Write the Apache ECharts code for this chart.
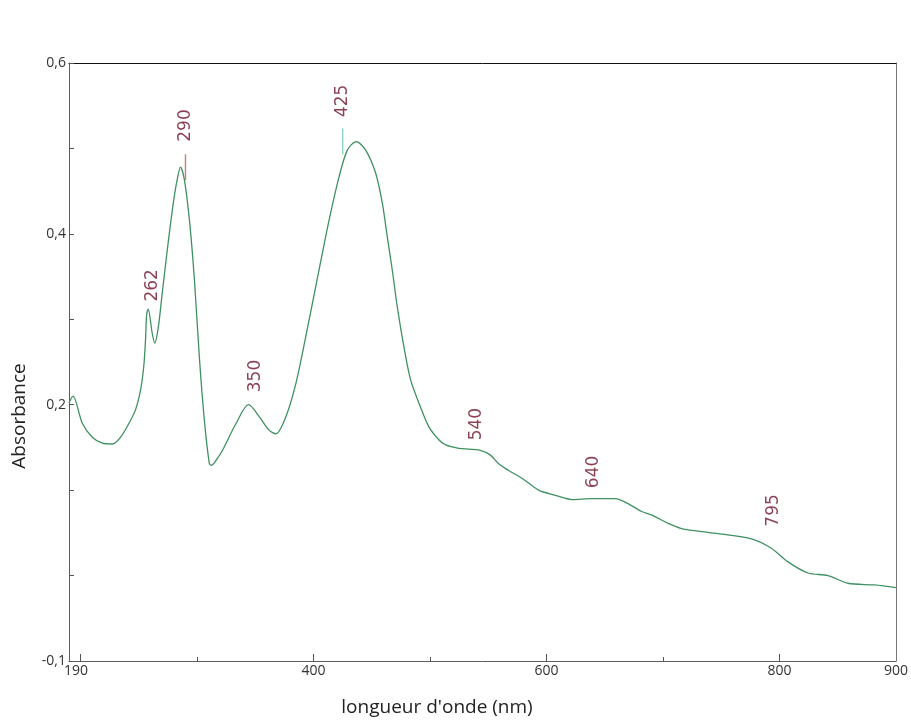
<!DOCTYPE html>
<html>
<head>
<meta charset="utf-8">
<title>Spectre d'absorption UV-visible</title>
<script src="https://cdn.jsdelivr.net/npm/echarts@6/dist/echarts.min.js"></script>
<style>
  html, body { margin: 0; padding: 0; background: #ffffff; }
  #chart { width: 911px; height: 723px; }
</style>
</head>
<body>
<div id="chart"></div>
<script>
// Absorption spectrum: wavelength (nm) and absorbance
const wavelength = [
  190, 193.4, 201.5, 210, 218.6, 227.2, 234.3, 241.4, 247.1, 251.4,
  254.2, 255.7, 256.7, 258, 261.4, 263.6, 266.6, 270, 273.4, 277,
  280.5, 283.4, 285.7, 289.1, 293.4, 297.7, 301.9, 306.2, 310.5, 312.2,
  316.3, 321.9, 333.4, 344.2, 353.3, 361.9, 367.6, 376.2, 384.8, 393.3,
  404.7, 413.3, 421.9, 429, 436.7, 444.7, 453.3, 459, 463.2, 467.5,
  471.8, 477.5, 483.3, 490.4, 499, 507.5, 513.3, 524.6, 533.2, 541.8,
  551.8, 558.9, 567.5, 578.9, 593.2, 607.5, 621.7, 638.8, 658.9, 670.3,
  681.6, 690.2, 704.5, 715.9, 730.2, 747.3, 775.9, 793, 807.3, 824.4,
  841.6, 858.7, 881.6, 900
];
const absorbance = [
  0.202, 0.210, 0.178, 0.162, 0.155, 0.154, 0.162, 0.178, 0.194, 0.217,
  0.245, 0.276, 0.306, 0.312, 0.284, 0.272, 0.290, 0.330, 0.370, 0.410,
  0.445, 0.467, 0.478, 0.463, 0.416, 0.346, 0.256, 0.182, 0.131, 0.129,
  0.135, 0.147, 0.178, 0.200, 0.186, 0.170, 0.166, 0.186, 0.225, 0.280,
  0.358, 0.416, 0.467, 0.498, 0.508, 0.498, 0.471, 0.436, 0.397, 0.358,
  0.315, 0.268, 0.229, 0.202, 0.174, 0.159, 0.153, 0.149, 0.148, 0.147,
  0.141, 0.131, 0.123, 0.114, 0.100, 0.094, 0.089, 0.090, 0.090, 0.084,
  0.075, 0.071, 0.061, 0.055, 0.052, 0.049, 0.043, 0.032, 0.016, 0.003,
  0.000, -0.009, -0.011, -0.014
];

// Absorption bands annotated on the spectrum (nm)
const bandLabels = [262, 290, 350, 425, 540, 640, 795];

// Axis tick values
const xTickLabels = [190, 400, 600, 800, 900];
const xMajorTicks = [200, 400, 600, 800];
const xMinorTicks = [300, 500, 700];
const yTickLabels = [-0.1, 0.2, 0.4, 0.6];
const yTicks = [-0.1, 0, 0.1, 0.2, 0.3, 0.4, 0.5, 0.6];

// Styling of the annotations: gap (px) between the trace and each label,
// and the colour of the short marker drawn through some maxima
const bandGap = { 262: 7, 290: 25, 350: 12, 425: 24, 540: 9, 640: 10, 795: 23 };
const bandTickColor = { 290: '#b5625c', 425: '#70c8b8' };

const spectrum = wavelength.map((w, i) => [w, absorbance[i]]);

// Height of the trace at a band: the nearest local maximum within 15 nm,
// otherwise the absorbance interpolated at the band wavelength (shoulders)
function bandLevel(nm) {
  let best = null, bestDist = Infinity;
  for (let i = 1; i < wavelength.length - 1; i++) {
    const a = absorbance[i];
    if (a >= absorbance[i - 1] && a >= absorbance[i + 1]) {
      const d = Math.abs(wavelength[i] - nm);
      if (d <= 15 && d < bestDist) { best = a; bestDist = d; }
    }
  }
  if (best !== null) return best;
  for (let i = 0; i < wavelength.length - 1; i++) {
    if (nm >= wavelength[i] && nm <= wavelength[i + 1]) {
      const t = (nm - wavelength[i]) / (wavelength[i + 1] - wavelength[i]);
      return absorbance[i] + t * (absorbance[i + 1] - absorbance[i]);
    }
  }
  return absorbance[absorbance.length - 1];
}

const labelData = bandLabels.map(nm => ({
  value: [nm, bandLevel(nm)],
  label: { distance: bandGap[nm] }
}));
const tickData = bandLabels.filter(nm => bandTickColor[nm]).map(nm => ({
  value: [nm, bandLevel(nm)],
  itemStyle: { color: bandTickColor[nm] }
}));

const tickFont = { color: '#333333', fontSize: 14, fontFamily: '"Open Sans", "Segoe UI", sans-serif' };
const hidden = { show: false };

const chart = echarts.init(document.getElementById('chart'), null, { renderer: 'canvas' });
chart.setOption({
  animation: false,
  backgroundColor: '#ffffff',
  grid: { left: 69, right: 13, top: 63, bottom: 62, containLabel: false },
  xAxis: [
    {
      type: 'value', min: 190, max: 900, position: 'bottom',
      axisLine: { show: true, onZero: false, lineStyle: { color: '#5c5c5c', width: 1 } },
      axisTick: { show: true, inside: true, length: 7, customValues: xMajorTicks, lineStyle: { color: '#555555' } },
      axisLabel: Object.assign({
        customValues: xTickLabels, margin: 3,
        formatter: v => v === 190 ? '{first|190}' : String(v),
        rich: { first: Object.assign({ padding: [0, 0, 0, 14] }, tickFont) }
      }, tickFont),
      splitLine: hidden
    },
    {
      type: 'value', min: 190, max: 900, position: 'bottom',
      axisLine: { show: false, onZero: false },
      axisTick: { show: true, inside: true, length: 4, customValues: xMinorTicks, lineStyle: { color: '#555555' } },
      axisLabel: hidden, splitLine: hidden
    },
    {
      type: 'value', min: 190, max: 900, position: 'top',
      axisLine: { show: true, onZero: false, lineStyle: { color: '#111111', width: 1 } },
      axisTick: hidden, axisLabel: hidden, splitLine: hidden
    }
  ],
  yAxis: [
    {
      type: 'value', min: -0.1, max: 0.6, position: 'left',
      axisLine: { show: true, onZero: false, lineStyle: { color: '#5c5c5c', width: 1 } },
      axisTick: { show: true, inside: true, length: 5, customValues: yTicks, lineStyle: { color: '#555555' } },
      axisLabel: Object.assign({
        customValues: yTickLabels, margin: 3,
        formatter: v => v.toFixed(1).replace('.', ',')
      }, tickFont),
      splitLine: hidden
    },
    {
      type: 'value', min: -0.1, max: 0.6, position: 'right',
      axisLine: { show: true, onZero: false, lineStyle: { color: '#777777', width: 1 } },
      axisTick: hidden, axisLabel: hidden, splitLine: hidden
    }
  ],
  series: [
    {
      name: 'Absorbance',
      type: 'line',
      data: spectrum,
      xAxisIndex: 0, yAxisIndex: 0,
      showSymbol: false,
      smooth: 0.3,
      lineStyle: { color: '#3f9162', width: 1.3 },
      z: 3
    },
    {
      name: 'repères',
      type: 'scatter',
      data: tickData,
      xAxisIndex: 0, yAxisIndex: 0,
      symbol: 'rect',
      symbolSize: [1.4, 26],
      silent: true,
      z: 4
    },
    {
      name: 'bandes',
      type: 'scatter',
      data: labelData,
      xAxisIndex: 0, yAxisIndex: 0,
      symbol: 'circle',
      symbolSize: 1,
      itemStyle: { color: 'rgba(0,0,0,0)' },
      silent: true,
      label: {
        show: true,
        position: 'top',
        rotate: 90,
        align: 'left',
        verticalAlign: 'middle',
        formatter: p => String(p.value[0]),
        color: '#6e1228',
        fontSize: 17,
        fontFamily: '"DejaVu Sans", sans-serif'
      },
      z: 5
    }
  ],
  graphic: [
    {
      type: 'text', x: 437, y: 708,
      style: {
        text: "longueur d'onde (nm)", align: 'center', verticalAlign: 'middle',
        font: '19px "Open Sans", sans-serif', fill: '#222222'
      }
    },
    {
      type: 'text', x: 20, y: 416, rotation: Math.PI / 2,
      style: {
        text: 'Absorbance', align: 'center', verticalAlign: 'middle',
        font: '19px "Open Sans", sans-serif', fill: '#222222'
      }
    }
  ]
});
</script>
</body>
</html>
